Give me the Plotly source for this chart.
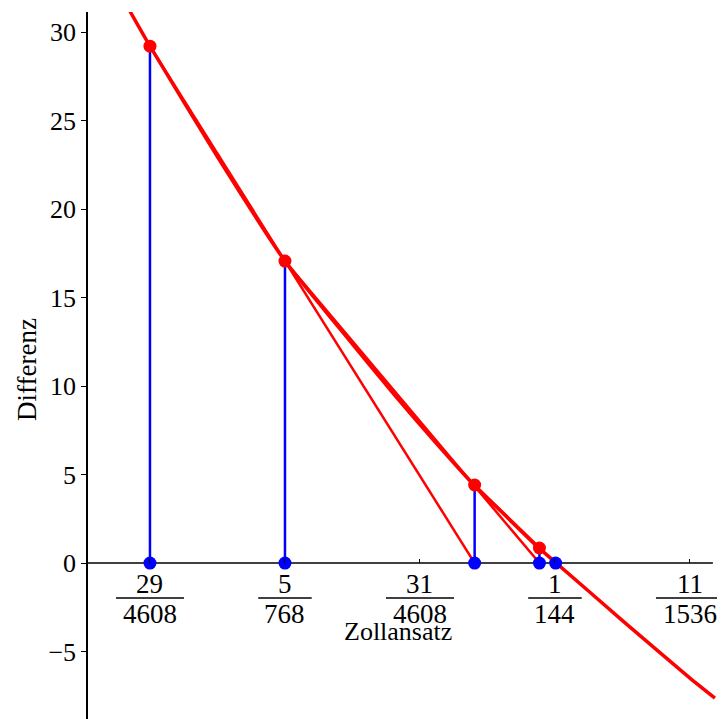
import plotly.graph_objects as go

# Data (x in units of 1/4608)
SCALE = 4608.0
curve_u = [28.85, 29.0, 29.5, 30.0, 30.4, 30.8, 31.1, 31.4, 31.65, 31.88, 32.01, 32.5, 33.0, 33.185]
curve_f = [31.2, 29.2, 22.95, 17.06, 13.3, 9.6, 6.95, 4.41, 2.55, 0.85, 0.0, -3.25, -6.5, -7.63]

iter_u = [29.0, 30.0, 31.405, 31.885, 32.005]
iter_f = [29.2, 17.06, 4.41, 0.85, 0.0]

tick_k = [29, 30, 31, 32, 33]
tick_num = ["29", "5", "31", "1", "11"]
tick_den = ["4608", "768", "4608", "144", "1536"]

y_ticks = [-5, 0, 5, 10, 15, 20, 25, 30]

RED = "#ff0000"
BLUE = "#0000ff"
FONT = "Liberation Serif"
FS = 27

cx = [u / SCALE for u in curve_u]
ix = [u / SCALE for u in iter_u]

fig = go.Figure()

# blue vertical lines
vx, vy = [], []
for k in range(4):
    vx += [ix[k], ix[k], None]
    vy += [0, iter_f[k], None]
fig.add_trace(go.Scatter(x=vx, y=vy, mode="lines", line=dict(color=BLUE, width=2.5),
                         hoverinfo="skip", showlegend=False))

# curve
fig.add_trace(go.Scatter(x=cx, y=curve_f, mode="lines",
                         line=dict(color=RED, width=3.5, shape="spline", smoothing=0.6),
                         showlegend=False))

# secant lines
sx, sy = [], []
for k in range(3):
    sx += [ix[k], ix[k + 2], None]
    sy += [iter_f[k], 0, None]
fig.add_trace(go.Scatter(x=sx, y=sy, mode="lines", line=dict(color=RED, width=2.5),
                         hoverinfo="skip", showlegend=False))

# red points on curve
fig.add_trace(go.Scatter(x=ix[:4], y=iter_f[:4], mode="markers",
                         marker=dict(color=RED, size=13), showlegend=False))
# blue points on axis
fig.add_trace(go.Scatter(x=ix, y=[0] * len(ix), mode="markers",
                         marker=dict(color=BLUE, size=13), showlegend=False))

x_lo = 28.541 / SCALE
x_hi = (28.541 + 637 / 135.0) / SCALE
y_lo, y_hi = -8.81, 31.13

# x axis line
fig.add_shape(type="line", x0=x_lo, x1=33.17 / SCALE, y0=0, y1=0,
              xref="x", yref="y", line=dict(color="black", width=1.5), layer="below")

# fraction tick labels
for k, n, d in zip(tick_k, tick_num, tick_den):
    xv = k / SCALE
    fig.add_annotation(x=xv, y=-1.2, text=n, showarrow=False, xref="x", yref="y",
                       font=dict(family=FONT, size=FS, color="black"))
    fig.add_annotation(x=xv, y=-2.85, text=d, showarrow=False, xref="x", yref="y",
                       font=dict(family=FONT, size=FS, color="black"))
    half = (len(d) * 14.5 + 10) / 2 / 135.0 / SCALE
    fig.add_shape(type="line", x0=xv - half, x1=xv + half, y0=-1.98, y1=-1.98,
                  xref="x", yref="y", line=dict(color="black", width=1.5))

fig.add_annotation(x=30.837 / SCALE, y=-3.85, text="Zollansatz", showarrow=False,
                   xref="x", yref="y", font=dict(family=FONT, size=FS - 1, color="black"))
fig.add_annotation(x=(27 - 88) / 637.0, y=(719 - 370) / 707.0, text="Differenz",
                   textangle=-90, showarrow=False, xref="paper", yref="paper",
                   xanchor="center", yanchor="middle",
                   font=dict(family=FONT, size=FS, color="black"))

fig.update_layout(
    width=717, height=711,
    margin=dict(l=80, r=0, t=4, b=0),
    paper_bgcolor="white", plot_bgcolor="white",
    xaxis=dict(range=[x_lo, x_hi], tickvals=[k / SCALE for k in tick_k],
               showticklabels=False, ticks="inside", ticklen=4, tickcolor="black",
               showgrid=False, zeroline=False, showline=False,
               anchor="free", position=(0 - y_lo) / (y_hi - y_lo)),
    yaxis=dict(range=[y_lo, y_hi], tickvals=y_ticks, ticks="outside", ticklen=5,
               tickcolor="black", showgrid=False, zeroline=False, showline=True,
               linecolor="black", linewidth=1.5, automargin=False,
               tickfont=dict(family=FONT, size=FS - 1, color="black")),
)

fig.write_html("out.html")
